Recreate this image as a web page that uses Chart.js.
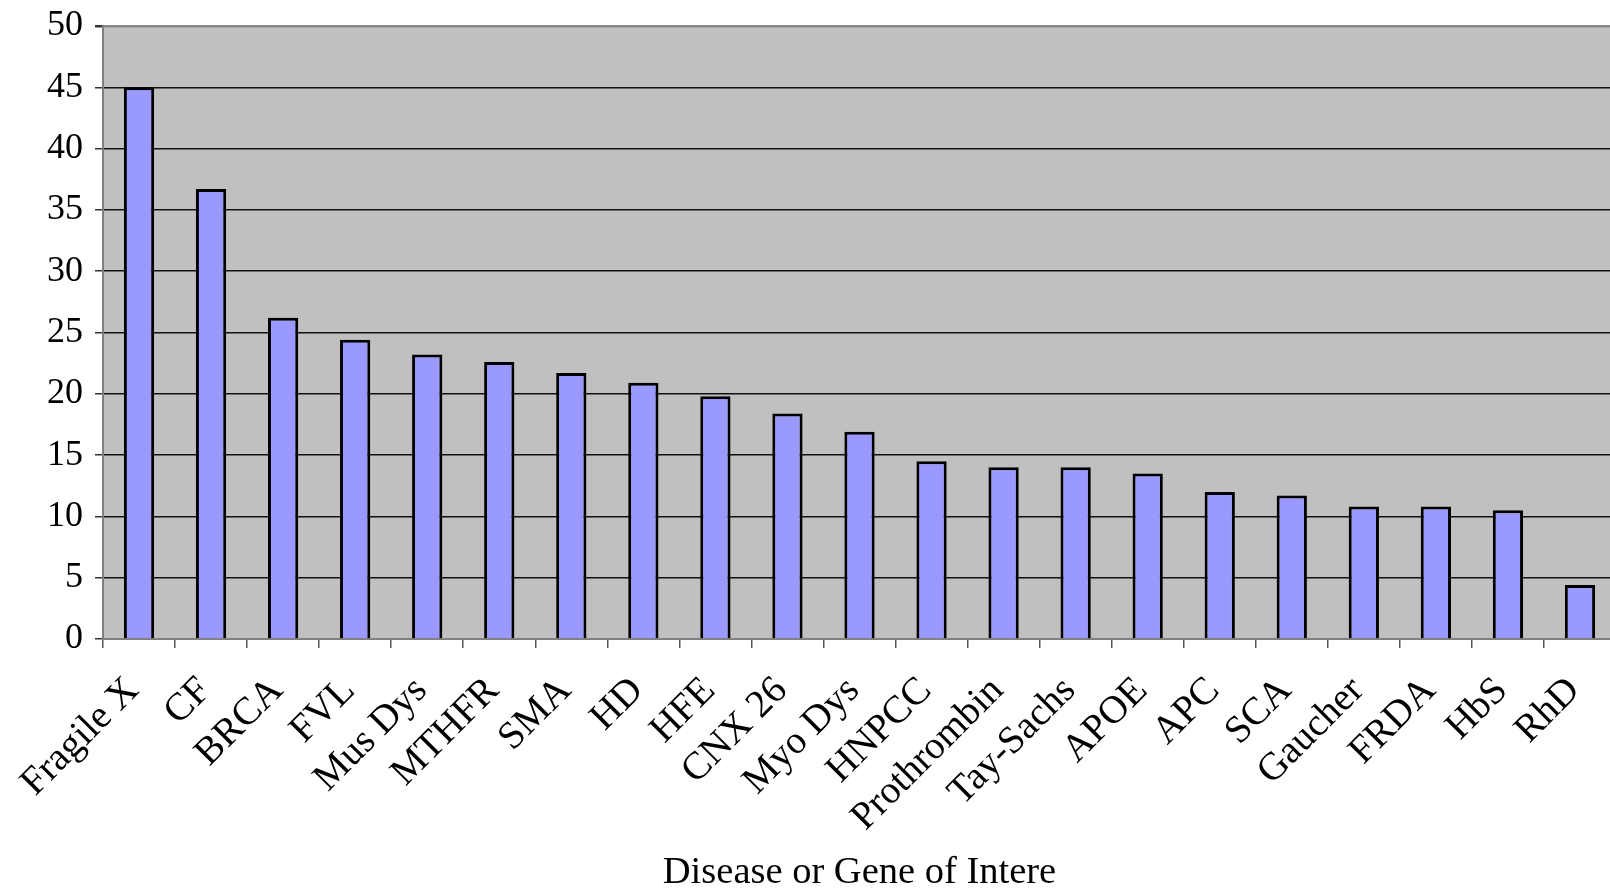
<!DOCTYPE html>
<html>
<head>
<meta charset="utf-8">
<script src="https://cdn.jsdelivr.net/npm/chart.js@4/dist/chart.umd.min.js"></script>
<style>
    html, body { margin: 0; padding: 0; background: #fff; overflow: hidden; }
    #wrap { width: 1616px; height: 889px; position: relative; }
</style>
</head>
<body>
<div id="wrap"><canvas id="myChart"></canvas></div>
<script>
    // values
    const categories = ['Fragile X', 'CF', 'BRCA', 'FVL', 'Mus Dys', 'MTHFR', 'SMA', 'HD', 'HFE', 'CNX 26',
        'Myo Dys', 'HNPCC', 'Prothrombin', 'Tay-Sachs', 'APOE', 'APC', 'SCA', 'Gaucher', 'FRDA', 'HbS', 'RhD'];
    const counts = [45.0, 36.7, 26.2, 24.4, 23.2, 22.6, 21.7, 20.9, 19.8, 18.4,
        16.9, 14.5, 14.0, 14.0, 13.5, 12.0, 11.7, 10.8, 10.8, 10.5, 4.4];
    const yTicks = [0, 5, 10, 15, 20, 25, 30, 35, 40, 45, 50];
    const xTitle = 'Disease or Gene of Intere';

    const serif = '"Liberation Serif", "Times New Roman", serif';

    // grey plot background
    const plotBackground = {
        id: 'plotBackground',
        beforeDraw: function(chart){
            let a = chart.chartArea;
            let ctx = chart.ctx;
            ctx.save();
            ctx.fillStyle = '#c0c0c0';
            ctx.fillRect(a.left, a.top, a.right - a.left, a.bottom - a.top);
            ctx.restore();
        }
    };

    let ctx = document.getElementById('myChart');
    let myBarChart = new Chart(ctx, {
        type: 'bar',
        data: {
            labels: categories,
            datasets: [{
                data: counts,
                backgroundColor: '#9999ff',
                borderColor: '#000000',
                borderWidth: 3,
                borderSkipped: 'bottom',
                barPercentage: 0.42,
                categoryPercentage: 1.0
            }]
        },
        options: {
            responsive: true,
            maintainAspectRatio: false,
            animation: false,
            layout: {
                padding: { top: 26, left: 0, right: 0, bottom: 0 }
            },
            plugins: {
                legend: { display: false },
                tooltip: { enabled: false }
            },
            scales: {
                x: {
                    offset: true,
                    grid: {
                        offset: true,
                        drawOnChartArea: false,
                        drawTicks: true,
                        tickLength: 9,
                        color: '#555555',
                        lineWidth: 1.5
                    },
                    border: { display: true, color: '#808080', width: 2 },
                    ticks: {
                        autoSkip: false,
                        maxRotation: 45,
                        minRotation: 45,
                        padding: 20,
                        labelOffset: -6,
                        color: '#000000',
                        font: { family: serif, size: 39 }
                    },
                    title: {
                        display: true,
                        text: xTitle,
                        color: '#000000',
                        font: { family: serif, size: 38.5, lineHeight: 1 },
                        padding: { top: 0, bottom: -3 }
                    },
                    afterFit: function(scale){
                        scale.height = 250;
                        scale.paddingLeft = 0;
                        scale.paddingRight = 0;
                    }
                },
                y: {
                    min: 0,
                    max: 50,
                    afterBuildTicks: function(scale){
                        scale.ticks = yTicks.map(function(v){ return { value: v }; });
                    },
                    grid: {
                        drawTicks: true,
                        tickLength: 8,
                        color: function(c){
                            return (c.tick && (c.tick.value === 50 || c.tick.value === 0)) ? '#888888' : '#111111';
                        },
                        lineWidth: function(c){
                            return (c.tick && c.tick.value === 50) ? 2.5 : 1.5;
                        },
                        tickColor: '#333333'
                    },
                    border: { display: true, color: '#808080', width: 2 },
                    ticks: {
                        padding: 12,
                        color: '#000000',
                        font: { family: serif, size: 36 }
                    },
                    afterFit: function(scale){
                        scale.width = 103;
                        scale.paddingTop = 0;
                        scale.paddingBottom = 0;
                    }
                }
            }
        },
        plugins: [plotBackground]
    });
</script>
</body>
</html>
